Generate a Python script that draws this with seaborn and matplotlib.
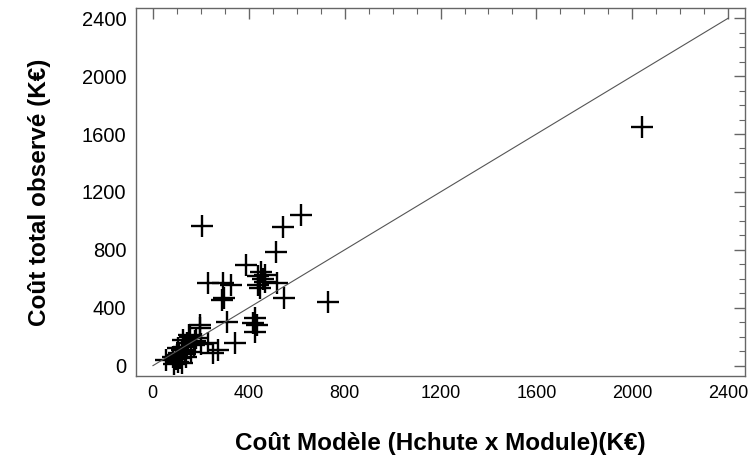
import matplotlib
matplotlib.use("Agg")
import matplotlib.pyplot as plt
import seaborn as sns
import pandas as pd
from matplotlib.ticker import MultipleLocator

# Valeurs (K€)
cout_modele = [2040, 207, 620, 541, 513, 388, 451, 440, 467, 447,
               440, 519, 548, 729, 231, 291, 328, 296, 287, 310,
               426, 419, 433, 426, 196, 342, 273, 196, 154, 182,
               126, 141, 231, 99, 113, 85, 106, 120, 57, 161,
               130, 110, 95, 170, 150, 460, 470, 120, 140, 200,
               250, 105, 90, 175, 135]
cout_observe = [1645, 965, 1041, 960, 788, 696, 650, 620, 627, 535,
                557, 569, 465, 442, 569, 574, 557, 465, 454, 304,
                327, 293, 281, 235, 281, 155, 108, 258, 200, 189,
                178, 155, 155, 74, 51, 62, 28, 108, 39, 97,
                130, 90, 45, 140, 210, 600, 580, 20, 60, 150,
                90, 120, 15, 170, 80]
droite_x = [0, 2400]
droite_y = [0, 2400]

df = pd.DataFrame({"modele": cout_modele, "observe": cout_observe})

sns.set_style("white")
plt.rcParams["font.family"] = ["Liberation Sans", "DejaVu Sans"]
plt.rcParams["text.color"] = "black"
plt.rcParams["axes.labelcolor"] = "black"

fig = plt.figure(figsize=(7.49, 4.61), dpi=100)
ax = fig.add_axes([0.1816, 0.185, 0.8131, 0.7976])

sns.lineplot(x=droite_x, y=droite_y, ax=ax, color="#555555", linewidth=0.8)
sns.scatterplot(data=df, x="modele", y="observe", ax=ax, marker="+",
                s=260, color="black", linewidth=1.7)

ax.set_xlim(-70, 2470)
ax.set_ylim(-69, 2470)
for axis in (ax.xaxis, ax.yaxis):
    axis.set_major_locator(MultipleLocator(400))
    axis.set_minor_locator(MultipleLocator(100))
ax.tick_params(which="both", direction="in", top=True, right=True,
               color="#666666", pad=7, labelcolor="black")
ax.tick_params(axis="y", labelsize=14.5)
ax.tick_params(axis="x", labelsize=13)
ax.tick_params(which="major", length=8, width=1)
ax.tick_params(which="minor", length=4.5, width=0.8)
for sp in ax.spines.values():
    sp.set_color("#666666")
    sp.set_linewidth(1)

ax.set_xlabel("Coût Modèle (Hchute x Module)(K€)", fontsize=17.5,
              fontweight="bold", labelpad=21, color="black")
ax.set_ylabel("Coût total observé (K€)", fontsize=17.5,
              fontweight="bold", labelpad=22, color="black")

fig.savefig("out.png", dpi=100)
